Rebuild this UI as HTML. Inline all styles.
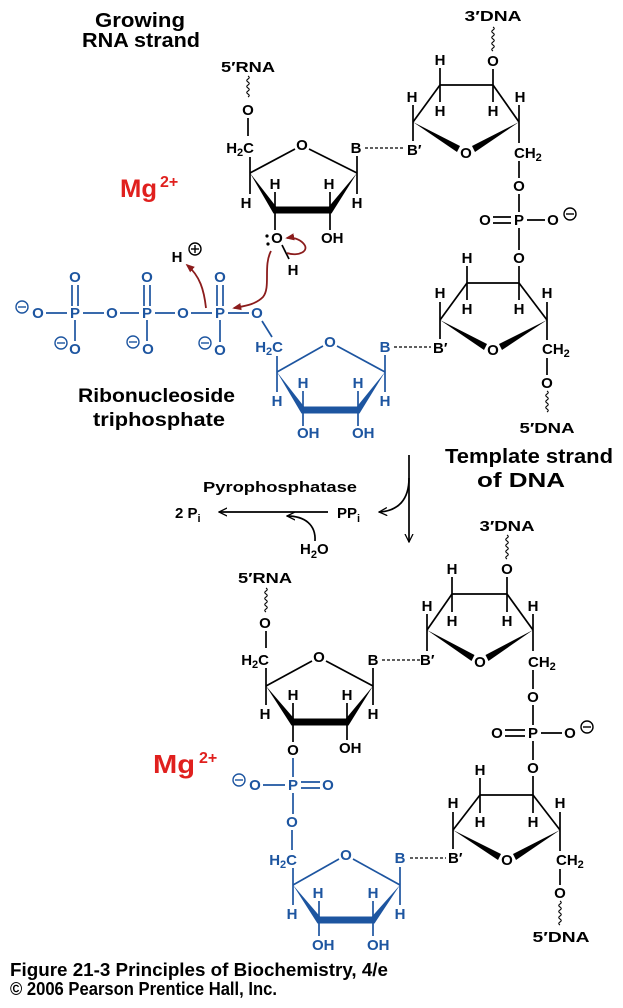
<!DOCTYPE html>
<html><head><meta charset="utf-8"><style>
html,body{margin:0;padding:0;background:#fff;}
svg{display:block}
text{font-family:"Liberation Sans",sans-serif;font-weight:bold;}
.a{font-size:15px;text-anchor:middle}
.s{font-size:15px}
.k{stroke:#000;stroke-width:1.7;fill:none}
.b{stroke:#1d55a0;stroke-width:1.7;fill:none}
.r{stroke:#8b1c1c;stroke-width:1.8;fill:none}
.d{stroke:#000;stroke-width:1.3;stroke-dasharray:3,2;fill:none}
.w{stroke:#000;stroke-width:1.1;fill:none}
.cm{fill:none;stroke-width:1.4}
</style></head><body>
<svg width="623" height="1008" viewBox="0 0 623 1008" xmlns="http://www.w3.org/2000/svg">
<defs>
<marker id="rh" viewBox="0 0 10 10" refX="8" refY="5" markerWidth="9" markerHeight="9" markerUnits="userSpaceOnUse" orient="auto"><path d="M0,1 L10,5 L0,9 z" fill="#8b1c1c"/></marker>
<marker id="kh" viewBox="0 0 10 10" refX="9" refY="5" markerWidth="9" markerHeight="9" markerUnits="userSpaceOnUse" orient="auto"><path d="M0,0.5 L9,5 L0,9.5" fill="none" stroke="#000" stroke-width="1.4"/></marker>
</defs>

<!-- Titles -->
<text x="95" y="27" font-size="20" textLength="90" lengthAdjust="spacingAndGlyphs">Growing</text>
<text x="82" y="47" font-size="20" textLength="118" lengthAdjust="spacingAndGlyphs">RNA strand</text>

<!-- ===== Top RNA (black) ===== -->
<g fill="#000">
<text class="a" x="248" y="72" textLength="54" lengthAdjust="spacingAndGlyphs">5′RNA</text>
<path class="w" d="M248,76 q2.5,1.5 0,3 q-2.5,1.5 0,3 q2.5,1.5 0,3 q-2.5,1.5 0,3 q2.5,1.5 0,3 q-2.5,1.5 0,3 q2.5,1.5 0,3"/>
<text class="a" x="248" y="115">O</text>
<line class="k" x1="248" y1="118" x2="248" y2="136"/>
<text class="s" x="254" y="153" text-anchor="end">H<tspan font-size="11" dy="3">2</tspan><tspan dy="-3">C</tspan></text>
<line class="k" x1="250" y1="173" x2="250" y2="157"/>
<line class="k" x1="250" y1="173" x2="295" y2="149"/>
<text class="a" x="302" y="150">O</text>
<line class="k" x1="309" y1="149" x2="357" y2="173"/>
<line class="k" x1="357" y1="173" x2="357" y2="156"/>
<text class="a" x="356" y="153">B</text>
<line class="d" x1="365" y1="148" x2="405" y2="148"/>
<polygon points="250,173 276,206.5 329,206.5 357,173 331.5,213.5 273.5,213.5"/>
<line class="k" x1="250" y1="173" x2="250" y2="194"/><text class="a" x="246" y="208">H</text>
<line class="k" x1="275" y1="210" x2="275" y2="192"/><text class="a" x="275" y="189">H</text>
<line class="k" x1="330" y1="210" x2="330" y2="192"/><text class="a" x="329" y="189">H</text>
<line class="k" x1="357" y1="173" x2="357" y2="194"/><text class="a" x="357" y="208">H</text>
<line class="k" x1="275" y1="213" x2="275" y2="230"/>
<text class="a" x="277" y="243">O</text>
<circle cx="267" cy="236" r="1.6"/><circle cx="268" cy="244" r="1.6"/>
<line class="k" x1="330" y1="213" x2="330" y2="230"/>
<text class="s" x="321" y="243">OH</text>
<line class="k" x1="282" y1="245" x2="289" y2="259"/>
<text class="a" x="293" y="275">H</text>
</g>

<!-- Mg top -->
<text x="120" y="197" font-size="25" fill="#e0201e" textLength="37" lengthAdjust="spacingAndGlyphs">Mg</text>
<text x="160" y="187" font-size="16" fill="#e0201e">2+</text>

<!-- H+ -->
<text class="a" x="177" y="262">H</text>
<circle cx="195" cy="249" r="6" class="cm" stroke="#000"/>
<line x1="191" y1="249" x2="199" y2="249" stroke="#000" stroke-width="1.4"/>
<line x1="195" y1="245" x2="195" y2="253" stroke="#000" stroke-width="1.4"/>

<!-- Red arrows -->
<path class="r" d="M206,308 C204,290 200,276 187,265" marker-end="url(#rh)"/>
<path class="r" d="M271,251 C263,266 271,287 263,297 C255,305 244,306 234,308" marker-end="url(#rh)"/>
<path class="r" d="M287,253 C298,257 311,251 303,243 C299,239 293,237 287,238" marker-end="url(#rh)"/>

<!-- ===== Top-right DNA (black) ===== -->
<g fill="#000">
<text class="a" x="493" y="21" textLength="57" lengthAdjust="spacingAndGlyphs">3′DNA</text>
<path class="w" d="M493,27 q2.5,1.5 0,3 q-2.5,1.5 0,3 q2.5,1.5 0,3 q-2.5,1.5 0,3 q2.5,1.5 0,3 q-2.5,1.5 0,3 q2.5,1.5 0,3 q-2.5,1.5 0,3"/>
<text class="a" x="493" y="66">O</text>
<line class="k" x1="493" y1="69" x2="493" y2="85"/>
<line class="k" x1="440" y1="85" x2="493" y2="85"/>
<line class="k" x1="440" y1="85" x2="440" y2="68"/><text class="a" x="440" y="65">H</text>
<line class="k" x1="440" y1="85" x2="440" y2="102"/><text class="a" x="440" y="116">H</text>
<line class="k" x1="493" y1="85" x2="493" y2="102"/><text class="a" x="493" y="116">H</text>
<line class="k" x1="440" y1="85" x2="413" y2="122"/>
<line class="k" x1="413" y1="122" x2="413" y2="105"/><text class="a" x="412" y="102">H</text>
<line class="k" x1="493" y1="85" x2="519" y2="122"/>
<line class="k" x1="519" y1="122" x2="519" y2="105"/><text class="a" x="520" y="102">H</text>
<polygon points="413,122 460,146 457,152"/>
<polygon points="519,122 472,146 475,152"/>
<text class="a" x="466" y="158">O</text>
<line class="k" x1="413" y1="122" x2="413" y2="141"/>
<text class="s" x="407" y="155">B′</text>
<line class="k" x1="519" y1="122" x2="519" y2="143"/>
<text class="s" x="514" y="158">CH<tspan font-size="11" dy="3">2</tspan></text>
<line class="k" x1="519" y1="161" x2="519" y2="178"/>
<text class="a" x="519" y="191">O</text>
<line class="k" x1="519" y1="194" x2="519" y2="212"/>
<text class="a" x="519" y="225">P</text>
<text class="a" x="485" y="225">O</text>
<line class="k" x1="493" y1="217" x2="511" y2="217"/>
<line class="k" x1="493" y1="223" x2="511" y2="223"/>
<line class="k" x1="527" y1="220" x2="545" y2="220"/>
<text class="a" x="553" y="225">O</text>
<circle cx="570" cy="214" r="6" class="cm" stroke="#000"/>
<line x1="566" y1="214" x2="574" y2="214" stroke="#000" stroke-width="1.4"/>
<line class="k" x1="519" y1="228" x2="519" y2="250"/>
<text class="a" x="519" y="263">O</text>
<line class="k" x1="519" y1="266" x2="519" y2="283"/>
<line class="k" x1="467" y1="283" x2="519" y2="283"/>
<line class="k" x1="467" y1="283" x2="467" y2="266"/><text class="a" x="467" y="263">H</text>
<line class="k" x1="467" y1="283" x2="467" y2="300"/><text class="a" x="467" y="314">H</text>
<line class="k" x1="519" y1="283" x2="519" y2="300"/><text class="a" x="519" y="314">H</text>
<line class="k" x1="467" y1="283" x2="440" y2="320"/>
<line class="k" x1="440" y1="320" x2="440" y2="302"/><text class="a" x="440" y="298">H</text>
<line class="k" x1="519" y1="283" x2="547" y2="320"/>
<line class="k" x1="547" y1="320" x2="547" y2="302"/><text class="a" x="547" y="298">H</text>
<polygon points="440,320 487,344 484,350"/>
<polygon points="547,320 499,344 502,350"/>
<text class="a" x="493" y="355">O</text>
<line class="k" x1="440" y1="320" x2="440" y2="339"/>
<text class="s" x="433" y="353">B′</text>
<line class="k" x1="547" y1="320" x2="547" y2="340"/>
<text class="s" x="542" y="354">CH<tspan font-size="11" dy="3">2</tspan></text>
<line class="k" x1="547" y1="358" x2="547" y2="375"/>
<text class="a" x="547" y="388">O</text>
<path class="w" d="M547,391 q2.5,1.5 0,3 q-2.5,1.5 0,3 q2.5,1.5 0,3 q-2.5,1.5 0,3 q2.5,1.5 0,3 q-2.5,1.5 0,3 q2.5,1.5 0,3"/>
<text class="a" x="547" y="433" textLength="55" lengthAdjust="spacingAndGlyphs">5′DNA</text>
</g>

<!-- ===== Blue NTP ===== -->
<g fill="#1d55a0">
<circle cx="22" cy="307" r="6" class="cm" stroke="#1d55a0"/><line x1="18" y1="307" x2="26" y2="307" stroke="#1d55a0" stroke-width="1.4"/>
<text class="a" x="38" y="318">O</text>
<line class="b" x1="46" y1="313" x2="67" y2="313"/>
<text class="a" x="75" y="318">P</text>
<text class="a" x="75" y="282">O</text>
<line class="b" x1="72" y1="285" x2="72" y2="306"/><line class="b" x1="78" y1="285" x2="78" y2="306"/>
<line class="b" x1="75" y1="320" x2="75" y2="341"/>
<text class="a" x="75" y="354">O</text>
<circle cx="61" cy="343" r="6" class="cm" stroke="#1d55a0"/><line x1="57" y1="343" x2="65" y2="343" stroke="#1d55a0" stroke-width="1.4"/>
<line class="b" x1="83" y1="313" x2="104" y2="313"/>
<text class="a" x="112" y="318">O</text>
<line class="b" x1="120" y1="313" x2="139" y2="313"/>
<text class="a" x="147" y="318">P</text>
<text class="a" x="147" y="282">O</text>
<line class="b" x1="144" y1="285" x2="144" y2="306"/><line class="b" x1="150" y1="285" x2="150" y2="306"/>
<line class="b" x1="147" y1="320" x2="147" y2="341"/>
<text class="a" x="148" y="354">O</text>
<circle cx="133" cy="342" r="6" class="cm" stroke="#1d55a0"/><line x1="129" y1="342" x2="137" y2="342" stroke="#1d55a0" stroke-width="1.4"/>
<line class="b" x1="155" y1="313" x2="175" y2="313"/>
<text class="a" x="183" y="318">O</text>
<line class="b" x1="191" y1="313" x2="212" y2="313"/>
<text class="a" x="220" y="318">P</text>
<text class="a" x="220" y="282">O</text>
<line class="b" x1="217" y1="285" x2="217" y2="306"/><line class="b" x1="223" y1="285" x2="223" y2="306"/>
<line class="b" x1="220" y1="320" x2="220" y2="342"/>
<text class="a" x="220" y="355">O</text>
<circle cx="205" cy="343" r="6" class="cm" stroke="#1d55a0"/><line x1="201" y1="343" x2="209" y2="343" stroke="#1d55a0" stroke-width="1.4"/>
<line class="b" x1="228" y1="313" x2="249" y2="313"/>
<text class="a" x="257" y="318">O</text>
<line class="b" x1="262" y1="321" x2="272" y2="337"/>
<text class="s" x="283" y="352" text-anchor="end">H<tspan font-size="11" dy="3">2</tspan><tspan dy="-3">C</tspan></text>
<line class="b" x1="277" y1="372" x2="277" y2="356"/>
<line class="b" x1="277" y1="372" x2="323" y2="346"/>
<text class="a" x="330" y="347">O</text>
<line class="b" x1="337" y1="346" x2="385" y2="372"/>
<line class="b" x1="385" y1="372" x2="385" y2="355"/>
<text class="a" x="385" y="352">B</text>
<polygon points="277,372 304,406.5 357,406.5 385,372 359.5,413.5 301.5,413.5"/>
<line class="b" x1="277" y1="372" x2="277" y2="392"/><text class="a" x="277" y="406">H</text>
<line class="b" x1="303" y1="410" x2="303" y2="391"/><text class="a" x="303" y="388">H</text>
<line class="b" x1="358" y1="410" x2="358" y2="391"/><text class="a" x="358" y="388">H</text>
<line class="b" x1="385" y1="372" x2="385" y2="392"/><text class="a" x="385" y="406">H</text>
<line class="b" x1="303" y1="413" x2="303" y2="426"/><text class="s" x="297" y="438">OH</text>
<line class="b" x1="358" y1="413" x2="358" y2="426"/><text class="s" x="352" y="438">OH</text>
</g>
<line class="d" x1="394" y1="347" x2="431" y2="347"/>

<text x="78" y="402" font-size="19" textLength="157" lengthAdjust="spacingAndGlyphs">Ribonucleoside</text>
<text x="93" y="426" font-size="19" textLength="132" lengthAdjust="spacingAndGlyphs">triphosphate</text>

<text x="445" y="463" font-size="20" textLength="168" lengthAdjust="spacingAndGlyphs">Template strand</text>
<text x="477" y="487" font-size="20" textLength="88" lengthAdjust="spacingAndGlyphs">of DNA</text>

<!-- ===== Middle reaction ===== -->
<line class="k" x1="409" y1="455" x2="409" y2="542" marker-end="url(#kh)" stroke-width="1.4"/>
<path class="k" stroke-width="1.4" d="M409,478 C409,500 398,511 379,512" marker-end="url(#kh)"/>
<text x="203" y="492" font-size="15" textLength="154" lengthAdjust="spacingAndGlyphs">Pyrophosphatase</text>
<text x="175" y="518" font-size="15">2 P<tspan font-size="11" dy="4">i</tspan></text>
<line class="k" stroke-width="1.4" x1="328" y1="512" x2="219" y2="512" marker-end="url(#kh)"/>
<text x="337" y="518" font-size="15">PP<tspan font-size="11" dy="4">i</tspan></text>
<text x="300" y="554" font-size="15">H<tspan font-size="11" dy="4">2</tspan><tspan dy="-4">O</tspan></text>
<path class="k" stroke-width="1.4" d="M315,541 C316,525 305,516 287,516" marker-end="url(#kh)"/>

<!-- ===== Bottom RNA (black) ===== -->
<g fill="#000">
<text class="a" x="265" y="583" textLength="54" lengthAdjust="spacingAndGlyphs">5′RNA</text>
<path class="w" d="M266,588 q2.5,1.5 0,3 q-2.5,1.5 0,3 q2.5,1.5 0,3 q-2.5,1.5 0,3 q2.5,1.5 0,3 q-2.5,1.5 0,3 q2.5,1.5 0,3 q-2.5,1.5 0,3"/>
<text class="a" x="265" y="628">O</text>
<line class="k" x1="266" y1="631" x2="266" y2="648"/>
<text class="s" x="269" y="665" text-anchor="end">H<tspan font-size="11" dy="3">2</tspan><tspan dy="-3">C</tspan></text>
<line class="k" x1="266" y1="686" x2="266" y2="668"/>
<line class="k" x1="266" y1="686" x2="312" y2="661"/>
<text class="a" x="319" y="662">O</text>
<line class="k" x1="326" y1="661" x2="373" y2="686"/>
<line class="k" x1="373" y1="686" x2="373" y2="668"/>
<text class="a" x="373" y="665">B</text>
<polygon points="266,686 294,718.5 346,718.5 373,686 348.5,725.5 291.5,725.5"/>
<line class="k" x1="266" y1="686" x2="266" y2="705"/><text class="a" x="265" y="719">H</text>
<line class="k" x1="293" y1="722" x2="293" y2="703"/><text class="a" x="293" y="700">H</text>
<line class="k" x1="347" y1="722" x2="347" y2="703"/><text class="a" x="347" y="700">H</text>
<line class="k" x1="373" y1="686" x2="373" y2="705"/><text class="a" x="373" y="719">H</text>
<line class="k" x1="293" y1="725" x2="293" y2="742"/><text class="a" x="293" y="755">O</text>
<line class="k" x1="347" y1="725" x2="347" y2="740"/><text class="s" x="339" y="753">OH</text>
</g>
<line class="d" x1="382" y1="660" x2="420" y2="660"/>

<!-- Mg bottom -->
<text x="153" y="773" font-size="26" fill="#e0201e" textLength="42" lengthAdjust="spacingAndGlyphs">Mg</text>
<text x="199" y="763" font-size="16" fill="#e0201e">2+</text>

<!-- ===== Bottom blue ===== -->
<g fill="#1d55a0">
<line class="b" x1="293" y1="758" x2="293" y2="777"/>
<circle cx="239" cy="780" r="6" class="cm" stroke="#1d55a0"/><line x1="235" y1="780" x2="243" y2="780" stroke="#1d55a0" stroke-width="1.4"/>
<text class="a" x="255" y="790">O</text>
<line class="b" x1="263" y1="785" x2="285" y2="785"/>
<text class="a" x="293" y="790">P</text>
<line class="b" x1="301" y1="782" x2="320" y2="782"/><line class="b" x1="301" y1="788" x2="320" y2="788"/>
<text class="a" x="328" y="790">O</text>
<line class="b" x1="293" y1="793" x2="293" y2="814"/>
<text class="a" x="292" y="827">O</text>
<line class="b" x1="292" y1="830" x2="292" y2="850"/>
<text class="s" x="297" y="865" text-anchor="end">H<tspan font-size="11" dy="3">2</tspan><tspan dy="-3">C</tspan></text>
<line class="b" x1="293" y1="885" x2="293" y2="868"/>
<line class="b" x1="293" y1="885" x2="339" y2="859"/>
<text class="a" x="346" y="860">O</text>
<line class="b" x1="353" y1="859" x2="400" y2="885"/>
<line class="b" x1="400" y1="885" x2="400" y2="867"/>
<text class="a" x="400" y="863">B</text>
<polygon points="293,885 320,916.5 372,916.5 400,885 374.5,923.5 317.5,923.5"/>
<line class="b" x1="293" y1="885" x2="293" y2="905"/><text class="a" x="292" y="919">H</text>
<line class="b" x1="319" y1="920" x2="319" y2="901"/><text class="a" x="318" y="898">H</text>
<line class="b" x1="373" y1="920" x2="373" y2="901"/><text class="a" x="373" y="898">H</text>
<line class="b" x1="400" y1="885" x2="400" y2="905"/><text class="a" x="400" y="919">H</text>
<line class="b" x1="319" y1="923" x2="319" y2="936"/><text class="s" x="312" y="950">OH</text>
<line class="b" x1="373" y1="923" x2="373" y2="936"/><text class="s" x="367" y="950">OH</text>
</g>
<line class="d" x1="410" y1="858" x2="446" y2="858"/>

<!-- ===== Bottom-right DNA (black) ===== -->
<g fill="#000">
<text class="a" x="507" y="531" textLength="55" lengthAdjust="spacingAndGlyphs">3′DNA</text>
<path class="w" d="M507,535 q2.5,1.5 0,3 q-2.5,1.5 0,3 q2.5,1.5 0,3 q-2.5,1.5 0,3 q2.5,1.5 0,3 q-2.5,1.5 0,3 q2.5,1.5 0,3 q-2.5,1.5 0,3"/>
<text class="a" x="507" y="574">O</text>
<line class="k" x1="507" y1="577" x2="507" y2="594"/>
<line class="k" x1="452" y1="594" x2="507" y2="594"/>
<line class="k" x1="452" y1="594" x2="452" y2="577"/><text class="a" x="452" y="574">H</text>
<line class="k" x1="452" y1="594" x2="452" y2="612"/><text class="a" x="452" y="626">H</text>
<line class="k" x1="507" y1="594" x2="507" y2="612"/><text class="a" x="507" y="626">H</text>
<line class="k" x1="452" y1="594" x2="427" y2="630"/>
<line class="k" x1="427" y1="630" x2="427" y2="614"/><text class="a" x="427" y="611">H</text>
<line class="k" x1="507" y1="594" x2="533" y2="630"/>
<line class="k" x1="533" y1="630" x2="533" y2="614"/><text class="a" x="533" y="611">H</text>
<polygon points="427,630 474.5,655 471.5,661"/>
<polygon points="533,630 485.5,655 488.5,661"/>
<text class="a" x="480" y="667">O</text>
<line class="k" x1="427" y1="630" x2="427" y2="651"/>
<text class="s" x="420" y="665">B′</text>
<line class="k" x1="533" y1="630" x2="533" y2="651"/>
<text class="s" x="528" y="667">CH<tspan font-size="11" dy="3">2</tspan></text>
<line class="k" x1="533" y1="670" x2="533" y2="689"/>
<text class="a" x="533" y="702">O</text>
<line class="k" x1="533" y1="705" x2="533" y2="725"/>
<text class="a" x="533" y="738">P</text>
<text class="a" x="497" y="738">O</text>
<line class="k" x1="505" y1="730" x2="525" y2="730"/>
<line class="k" x1="505" y1="736" x2="525" y2="736"/>
<line class="k" x1="541" y1="733" x2="562" y2="733"/>
<text class="a" x="570" y="738">O</text>
<circle cx="587" cy="727" r="6" class="cm" stroke="#000"/>
<line x1="583" y1="727" x2="591" y2="727" stroke="#000" stroke-width="1.4"/>
<line class="k" x1="533" y1="741" x2="533" y2="760"/>
<text class="a" x="533" y="773">O</text>
<line class="k" x1="533" y1="776" x2="533" y2="795"/>
<line class="k" x1="480" y1="795" x2="533" y2="795"/>
<line class="k" x1="480" y1="795" x2="480" y2="778"/><text class="a" x="480" y="775">H</text>
<line class="k" x1="480" y1="795" x2="480" y2="813"/><text class="a" x="480" y="827">H</text>
<line class="k" x1="533" y1="795" x2="533" y2="813"/><text class="a" x="533" y="827">H</text>
<line class="k" x1="480" y1="795" x2="453" y2="830"/>
<line class="k" x1="453" y1="830" x2="453" y2="812"/><text class="a" x="453" y="808">H</text>
<line class="k" x1="533" y1="795" x2="560" y2="830"/>
<line class="k" x1="560" y1="830" x2="560" y2="812"/><text class="a" x="560" y="808">H</text>
<polygon points="453,830 501,854 498,860"/>
<polygon points="560,830 513,854 516,860"/>
<text class="a" x="507" y="865">O</text>
<line class="k" x1="453" y1="830" x2="453" y2="849"/>
<text class="s" x="448" y="863">B′</text>
<line class="k" x1="560" y1="830" x2="560" y2="851"/>
<text class="s" x="556" y="865">CH<tspan font-size="11" dy="3">2</tspan></text>
<line class="k" x1="560" y1="869" x2="560" y2="885"/>
<text class="a" x="560" y="898">O</text>
<path class="w" d="M560,901 q2.5,1.5 0,3 q-2.5,1.5 0,3 q2.5,1.5 0,3 q-2.5,1.5 0,3 q2.5,1.5 0,3 q-2.5,1.5 0,3 q2.5,1.5 0,3 q-2.5,1.5 0,3"/>
<text class="a" x="561" y="942" textLength="57" lengthAdjust="spacingAndGlyphs">5′DNA</text>
</g>

<!-- Caption -->
<text x="10" y="976" font-size="18" textLength="378" lengthAdjust="spacingAndGlyphs">Figure 21-3  Principles of Biochemistry, 4/e</text>
<text x="10" y="995" font-size="18" textLength="267" lengthAdjust="spacingAndGlyphs">© 2006 Pearson Prentice Hall, Inc.</text>
</svg>
</body></html>
